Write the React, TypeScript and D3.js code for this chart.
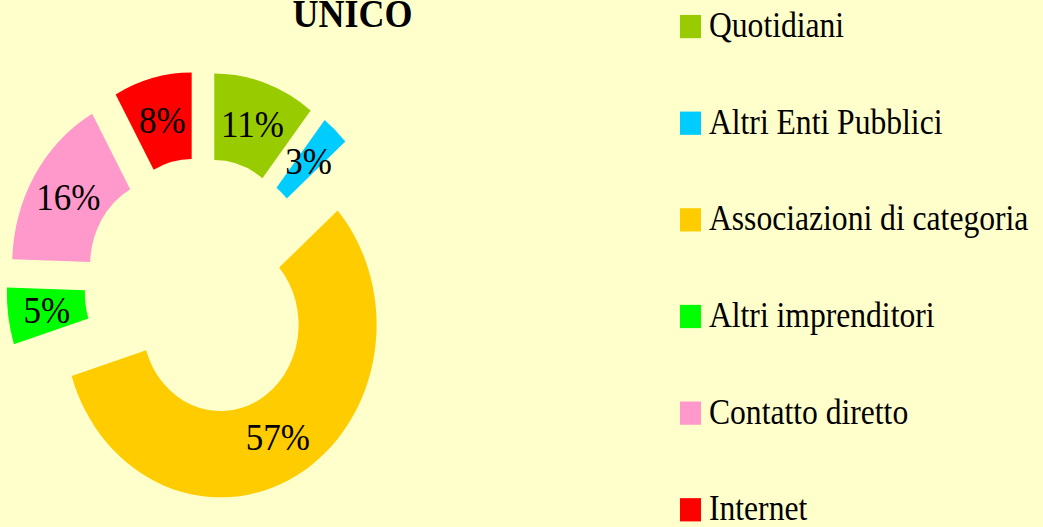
import * as d3 from 'd3';

const categories = [
  'Quotidiani',
  'Altri Enti Pubblici',
  'Associazioni di categoria',
  'Altri imprenditori',
  'Contatto diretto',
  'Internet',
];
const shares = [10.6, 2.9, 56.7, 5.3, 16.4, 8.1];
const colors = ['#99CC00', '#00CCFF', '#FFCC00', '#00FF00', '#FF99CC', '#FF0000'];
const title = 'UNICO';

const W = 1043;
const H = 527;
const stretchY = 1.107; // the original picture is a bit taller than wide
const cx = 201.5;
const cy = 259.3;
const outerR = 156;
const innerR = 78;
const explode = 39;
const serif = '"Liberation Serif", "Times New Roman", serif';

interface Slice {
  name: string;
  value: number;
  color: string;
}

export default function App() {
  const data: Slice[] = categories.map((name, i) => ({ name, value: shares[i], color: colors[i] }));

  const pie = d3.pie<Slice>().value(d => d.value).sort(null).startAngle(0).endAngle(2 * Math.PI);
  const arcs = pie(data);
  const arc = d3.arc<d3.PieArcDatum<Slice>>().innerRadius(innerR).outerRadius(outerR);

  // legend rows
  const legendY = d3.scalePoint<string>().domain(categories).range([13.5, 13.5 + 87.3 * 5]);

  return (
    <div style={{ position: 'absolute', left: 0, top: 0, width: W, height: H }}>
      <svg width={W} height={H} style={{ display: 'block' }}>
        <rect x={0} y={0} width={W} height={H} fill="#FFFFCC" />
        <g transform={`scale(1,${stretchY})`}>
          <text
            x={352.5}
            y={24.5}
            textAnchor="middle"
            fontFamily={serif}
            fontWeight="bold"
            fontSize={36}
            fill="#000"
          >
            {title}
          </text>

          <g transform={`translate(${cx},${cy})`}>
            {arcs.map((a, i) => {
              const mid = (a.startAngle + a.endAngle) / 2;
              const dx = Math.sin(mid) * explode;
              const dy = -Math.cos(mid) * explode;
              const [lx, ly] = arc.centroid(a);
              return (
                <g key={i} transform={`translate(${dx},${dy})`}>
                  <path d={arc(a) || ''} fill={a.data.color} />
                  <text
                    x={lx}
                    y={ly}
                    dy="0.33em"
                    textAnchor="middle"
                    fontFamily={serif}
                    fontSize={35}
                    fill="#000"
                  >
                    {Math.round(a.data.value)}%
                  </text>
                </g>
              );
            })}
          </g>

          {data.map((d, i) => {
            const y = legendY(d.name) || 0;
            return (
              <g key={i}>
                <rect x={680} y={y} width={21} height={21} fill={d.color} />
                <text x={709} y={y + 20} fontFamily={serif} fontSize={31.6} fill="#000">
                  {d.name}
                </text>
              </g>
            );
          })}
        </g>
      </svg>
    </div>
  );
}
